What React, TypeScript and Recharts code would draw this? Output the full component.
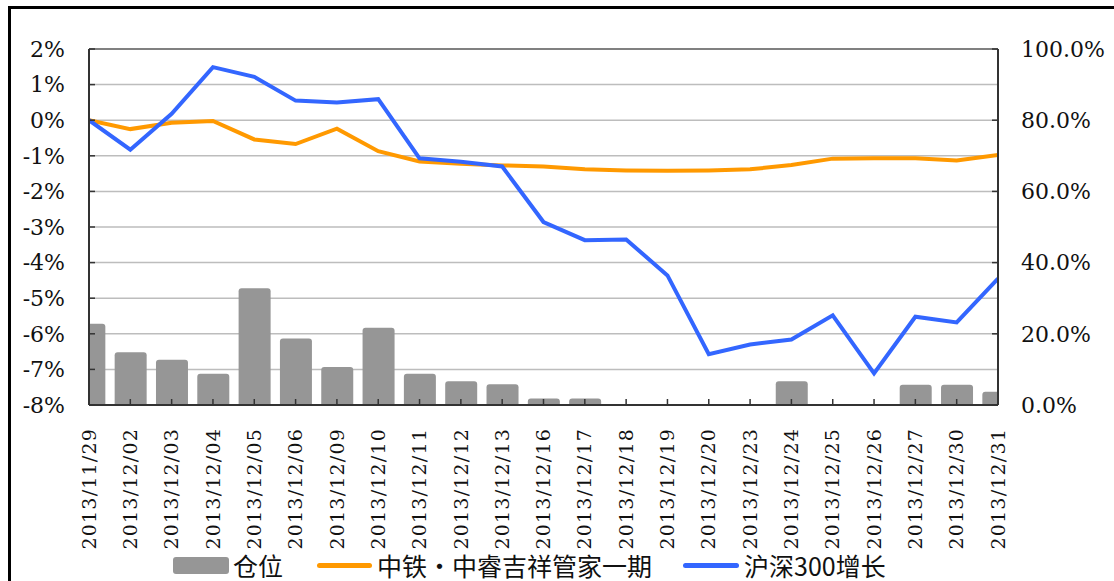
import React from 'react'
import { ComposedChart, Bar, Line, XAxis, YAxis, CartesianGrid, ReferenceLine } from 'recharts'

// trading days, Nov 29 - Dec 31 2013
const dates = [
  '2013/11/29', '2013/12/02', '2013/12/03', '2013/12/04', '2013/12/05', '2013/12/06',
  '2013/12/09', '2013/12/10', '2013/12/11', '2013/12/12', '2013/12/13', '2013/12/16',
  '2013/12/17', '2013/12/18', '2013/12/19', '2013/12/20', '2013/12/23', '2013/12/24',
  '2013/12/25', '2013/12/26', '2013/12/27', '2013/12/30', '2013/12/31',
]

// 仓位 (right axis, %)
const positions = [
  22.8, 14.8, 12.7, 8.8, 32.8, 18.7, 10.7, 21.7, 8.8, 6.7, 5.8, 1.8,
  1.8, 0, 0, 0, 0, 6.7, 0, 0, 5.7, 5.7, 3.7,
]

// 中铁•中睿吉祥管家一期 (left axis, %)
const fundReturn = [
  0, -0.25, -0.07, -0.02, -0.54, -0.67, -0.24, -0.87, -1.16, -1.22, -1.27, -1.3,
  -1.38, -1.41, -1.42, -1.41, -1.38, -1.26, -1.08, -1.07, -1.07, -1.13, -0.98,
]

// 沪深300增长 (left axis, %)
const hs300Return = [
  0, -0.83, 0.18, 1.49, 1.22, 0.55, 0.5, 0.59, -1.07, -1.17, -1.3, -2.86,
  -3.37, -3.35, -4.36, -6.57, -6.3, -6.16, -5.48, -7.11, -5.52, -5.68, -4.45,
]

const leftTicks = [-8, -7, -6, -5, -4, -3, -2, -1, 0, 1, 2]
const rightTicks = [0, 20, 40, 60, 80, 100]

const data = dates.map((d, i) => ({
  idx: i,
  position: positions[i],
  fund: fundReturn[i],
  hs300: hs300Return[i],
}))

const serif = '"DejaVu Serif", "Liberation Serif", serif'
const cjk = '"Noto Sans CJK SC", sans-serif'

function DateTick(props: any) {
  const { x, y, payload } = props
  return (
    <text
      x={x}
      y={y}
      transform={`rotate(-90, ${x}, ${y})`}
      textAnchor="end"
      dy="0.35em"
      fontSize={19}
      style={{ fontFamily: serif, letterSpacing: 1.2 }}
      fill="#111"
    >
      {dates[payload.value]}
    </text>
  )
}

function ValueTick(props: any) {
  const { x, y, payload, textAnchor, tickFormatter } = props
  return (
    <text x={x} y={y} dy="0.35em" textAnchor={textAnchor} fontSize={22} style={{ fontFamily: serif }} fill="#111">
      {tickFormatter ? tickFormatter(payload.value) : payload.value}
    </text>
  )
}

export default function App() {
  return (
    <div style={{ position: 'absolute', left: 0, top: 0, width: 1114, height: 581, background: '#fff' }}>
      <div
        style={{
          position: 'absolute',
          left: 8,
          top: 6,
          width: 1106,
          height: 575,
          borderTop: '3px solid #000',
          borderLeft: '3px solid #000',
        }}
      />
      <div style={{ position: 'absolute', left: 0, top: 0 }}>
        <ComposedChart width={1114} height={581} data={data} margin={{ top: 49, right: 0, bottom: 0, left: 0 }}>
          <CartesianGrid vertical={false} yAxisId="left" stroke="#BDBDBD" strokeWidth={1.5} />
          <XAxis
            type="number"
            dataKey="idx"
            domain={[0, dates.length - 1]}
            ticks={dates.map((d, i) => i)}
            interval={0}
            allowDataOverflow
            height={176}
            tick={<DateTick />}
            tickSize={-6}
            tickMargin={29}
            axisLine={{ stroke: '#333', strokeWidth: 2 }}
            tickLine={{ stroke: '#333', strokeWidth: 1.5 }}
          />
          <YAxis
            yAxisId="left"
            orientation="left"
            domain={[-8, 2]}
            ticks={leftTicks}
            interval={0}
            width={89}
            tickFormatter={(v: number) => `${v}%`}
            tick={<ValueTick />}
            tickSize={-6}
            tickMargin={30}
            axisLine={{ stroke: '#333', strokeWidth: 2 }}
            tickLine={{ stroke: '#333', strokeWidth: 1.5 }}
          />
          <YAxis
            yAxisId="right"
            orientation="right"
            domain={[0, 100]}
            ticks={rightTicks}
            interval={0}
            width={116}
            tickFormatter={(v: number) => `${v.toFixed(1)}%`}
            tick={<ValueTick />}
            tickSize={-6}
            tickMargin={29}
            axisLine={{ stroke: '#333', strokeWidth: 2 }}
            tickLine={{ stroke: '#333', strokeWidth: 1.5 }}
          />
          <ReferenceLine yAxisId="left" y={2} stroke="#808080" strokeWidth={2} />
          <Bar
            yAxisId="right"
            dataKey="position"
            name="仓位"
            fill="#969696"
            barSize={32}
            radius={[3, 3, 0, 0]}
            isAnimationActive={false}
          />
          <Line
            yAxisId="left"
            dataKey="fund"
            name="中铁•中睿吉祥管家一期"
            type="linear"
            stroke="#FF9900"
            strokeWidth={4}
            dot={false}
            isAnimationActive={false}
          />
          <Line
            yAxisId="left"
            dataKey="hs300"
            name="沪深300增长"
            type="linear"
            stroke="#3366FF"
            strokeWidth={4}
            dot={false}
            isAnimationActive={false}
          />
        </ComposedChart>
      </div>
      <div
        style={{
          position: 'absolute',
          left: 173,
          top: 551,
          height: 28,
          display: 'flex',
          alignItems: 'center',
          fontFamily: cjk,
          fontSize: 25,
          color: '#111',
          whiteSpace: 'nowrap',
        }}
      >
        <span style={{ width: 56, height: 17, background: '#969696', borderRadius: 3, marginRight: 4 }} />
        <span>仓位</span>
        <span style={{ width: 55, height: 5, background: '#FF9900', borderRadius: 3, marginLeft: 34, marginRight: 5 }} />
        <span>中铁•中睿吉祥管家一期</span>
        <span style={{ width: 56, height: 5, background: '#3366FF', borderRadius: 3, marginLeft: 31, marginRight: 5 }} />
        <span>沪深300增长</span>
      </div>
    </div>
  )
}
